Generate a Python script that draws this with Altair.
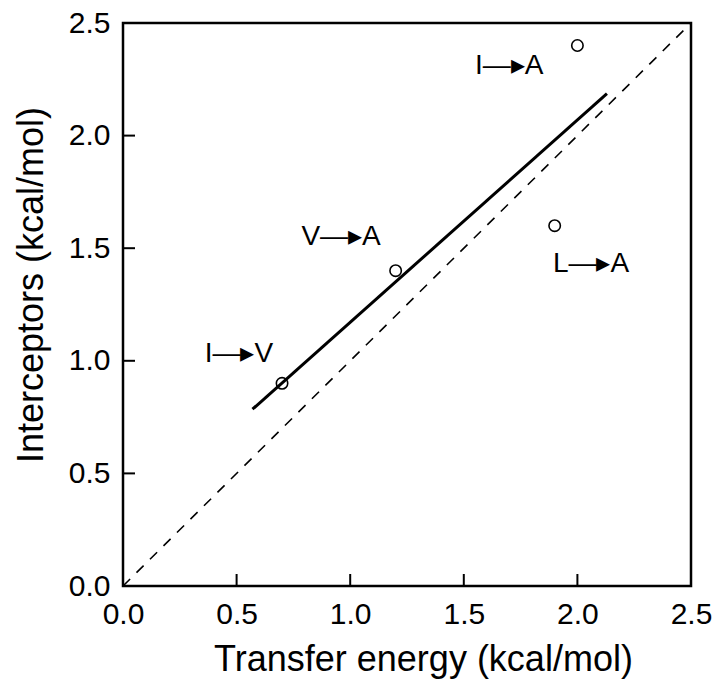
import altair as alt
import pandas as pd

# observed points
transfer = [0.7, 1.2, 2.0, 1.9]
intercept = [0.9, 1.4, 2.4, 1.6]

# fitted line endpoints
fit_x = [0.57, 2.13]
fit_y = [0.785, 2.186]

# identity (dashed) line
diag = [0.0, 2.5]

# annotation labels
ARROW = "\u2014\u25B8"
lab_text = ["I" + ARROW + "V", "V" + ARROW + "A", "I" + ARROW + "A", "L" + ARROW + "A"]
lab_x = [0.51, 0.96, 1.70, 2.06]
lab_y = [1.03, 1.55, 2.31, 1.43]

ticks = [0.0, 0.5, 1.0, 1.5, 2.0, 2.5]
inner_ticks = [0.5, 1.0, 1.5, 2.0]

FONT = "Liberation Sans"

pts = pd.DataFrame({"x": transfer, "y": intercept})
fit = pd.DataFrame({"x": fit_x, "y": fit_y})
dg = pd.DataFrame({"x": diag, "y": diag})
labs = pd.DataFrame({"x": lab_x, "y": lab_y, "t": lab_text})
tk = pd.DataFrame({"v": inner_ticks})

W, H = 568, 563
xs = alt.Scale(domain=[0, 2.5], nice=False, zero=False)
ys = alt.Scale(domain=[0, 2.5], nice=False, zero=False)

xax = alt.Axis(values=ticks, format=".1f", grid=False, domain=False, ticks=False,
               labelFlush=False, labelPadding=13, labelFontSize=30, labelFont=FONT,
               labelColor="black",
               title="Transfer energy (kcal/mol)", titleFontSize=36, titleFont=FONT,
               titleFontWeight="normal", titlePadding=13, titleColor="black",
               titleX=W / 2 + 16)
yax = alt.Axis(values=ticks, format=".1f", grid=False, domain=False, ticks=False,
               labelFlush=False, labelPadding=13, labelFontSize=30, labelFont=FONT,
               labelColor="black",
               title="Interceptors (kcal/mol)", titleFontSize=36, titleFont=FONT,
               titleFontWeight="normal", titlePadding=18, titleColor="black",
               titleY=H / 2 - 20)

diag_line = alt.Chart(dg).mark_line(color="black", strokeWidth=1.6, strokeDash=[10, 9]).encode(
    x=alt.X("x:Q", scale=xs, axis=xax), y=alt.Y("y:Q", scale=ys, axis=yax))
fit_line = alt.Chart(fit).mark_line(color="black", strokeWidth=3).encode(
    x=alt.X("x:Q", scale=xs), y=alt.Y("y:Q", scale=ys))
points = alt.Chart(pts).mark_point(shape="circle", size=130, filled=False, color="black",
                                   strokeWidth=1.6, opacity=1).encode(
    x=alt.X("x:Q", scale=xs), y=alt.Y("y:Q", scale=ys))
texts = alt.Chart(labs).mark_text(fontSize=28, font=FONT, color="black").encode(
    x=alt.X("x:Q", scale=xs), y=alt.Y("y:Q", scale=ys), text="t:N")
xticks = alt.Chart(tk).mark_rule(color="black", strokeWidth=2).encode(
    x=alt.X("v:Q", scale=xs), y=alt.value(H), y2=alt.value(H - 12))
yticks = alt.Chart(tk).mark_rule(color="black", strokeWidth=2).encode(
    y=alt.Y("v:Q", scale=ys), x=alt.value(0), x2=alt.value(12))

chart = alt.layer(diag_line, fit_line, points, texts, xticks, yticks).properties(
    width=W, height=H,
    autosize=alt.AutoSizeParams(type="none"),
    padding={"left": 115, "top": 15, "right": 21, "bottom": 97},
).configure_view(stroke="black", strokeWidth=2.5)

chart.save("out.html", embed_options={"renderer": "svg", "actions": False})
